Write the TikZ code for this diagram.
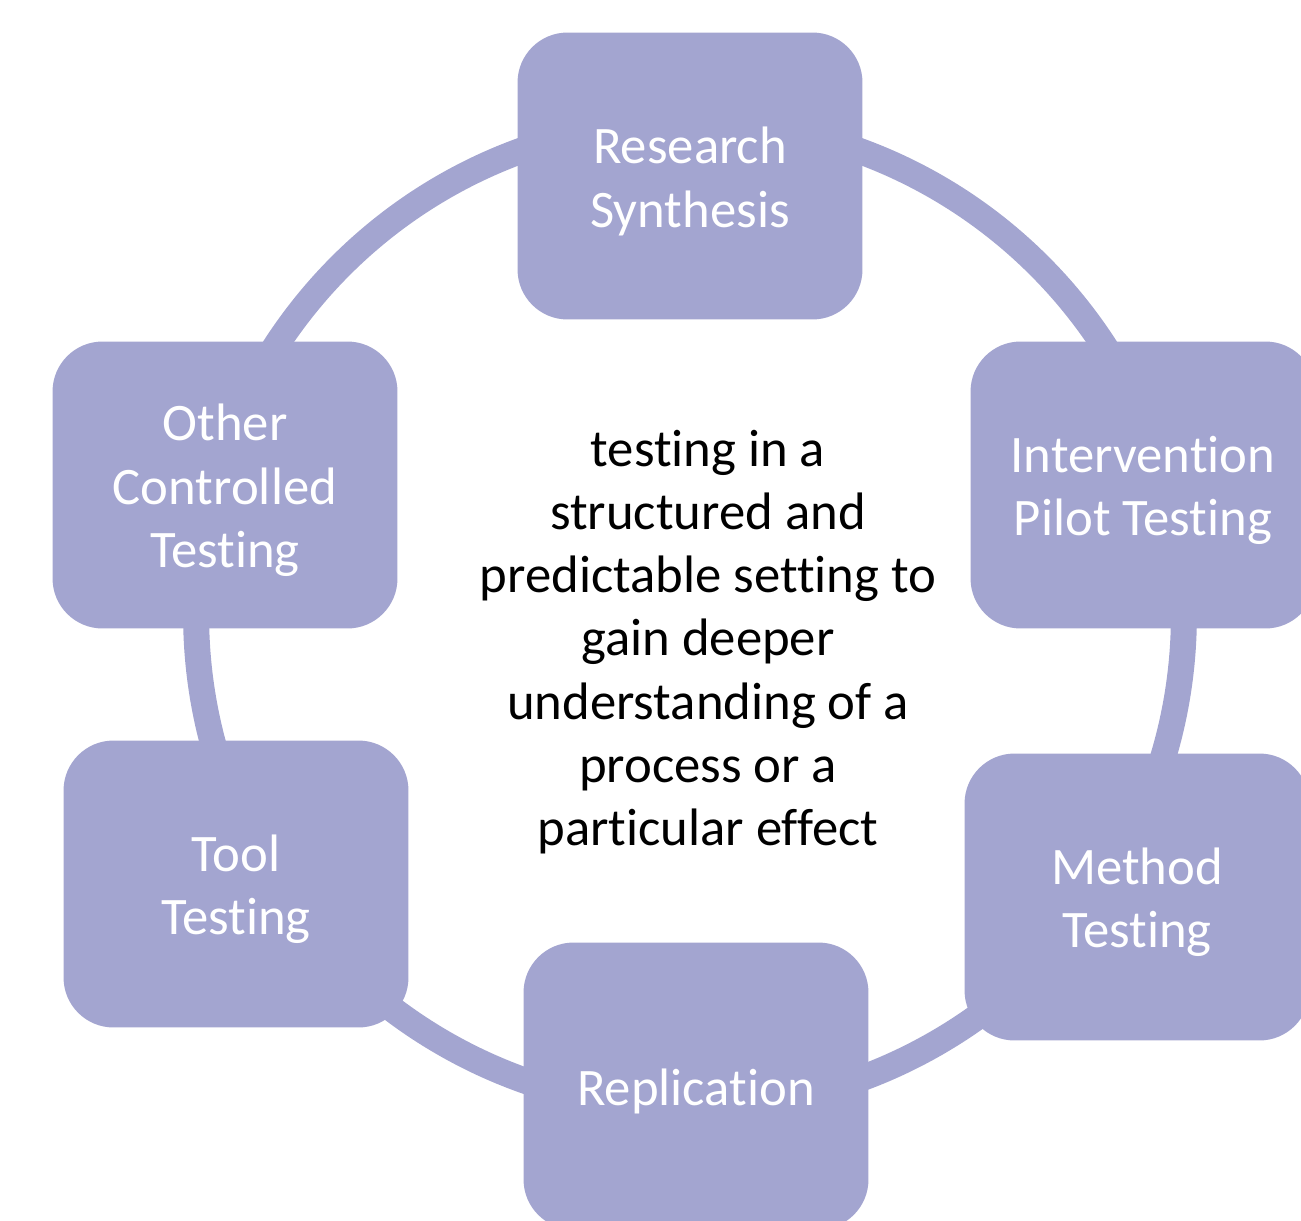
\documentclass[tikz,border=0pt]{standalone}
\usepackage{fontspec}
\setmainfont{Carlito}[Ligatures=NoCommon]
\usepackage{xcolor}
\definecolor{lavender}{RGB}{163,165,208}

\begin{document}
\begin{tikzpicture}[x=0.02cm,y=-0.02cm,
		stage/.style={rectangle,rounded corners=1cm,fill=lavender,text=white,minimum width=6.9cm,minimum height=5.74cm,text width=6cm,align=flush center,font=\fontsize{30}{36}\selectfont,execute at begin node={\rule{0pt}{27pt}}},
		ring/.style={draw=lavender,line width=0.52cm}]
		\useasboundingbox (0,0) rectangle (1301,1220);
		\clip (0,0) rectangle (1301,1220);
		\coordinate (O) at (690,615);
		\draw [ring] (O) circle [radius=9.88cm];
		\node[stage] (RS) at (690,176) {Research\\Synthesis};
		\node[stage] (IP) at (1143,485) {Intervention\\Pilot Testing};
		\node[stage] (MT) at (1137,897) {Method\\Testing};
		\node[stage] (RE) at (696,1086) {Replication};
		\node[stage] (TT) at (236,884) {Tool\\Testing};
		\node[stage] (OC) at (225,485) {Other\\Controlled\\Testing};
		\node[align=center,font=\fontsize{30}{36}\selectfont] (C) at (708,642) {testing in a\\structured and\\predictable setting to\\gain deeper\\understanding of a\\process or a\\particular effect};
    \end{tikzpicture}
\end{document}
